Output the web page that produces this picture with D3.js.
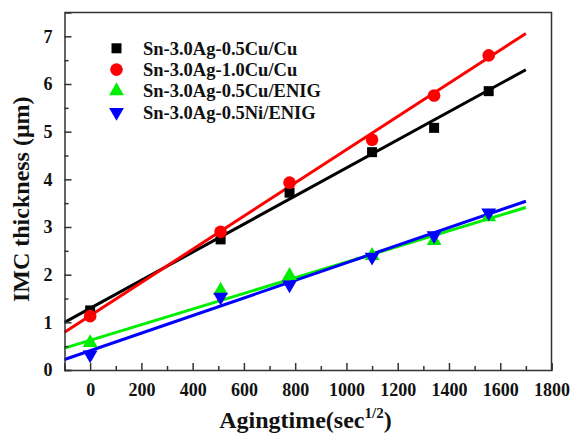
<!DOCTYPE html>
<html>
<head>
<meta charset="utf-8">
<script src="https://cdnjs.cloudflare.com/ajax/libs/d3/7.8.5/d3.min.js"></script>
<style>
    body { margin: 0; background: #fff; }
    text { font-family: "Liberation Serif", "Times New Roman", serif; font-weight: bold; fill: #111; }
</style>
</head>
<body>
<div id="chart"></div>
<script>
// aging time in sec^1/2
const agingTimes = [0, 509, 778, 1100, 1342, 1555];

const seriesNames = ['Sn-3.0Ag-0.5Cu/Cu', 'Sn-3.0Ag-1.0Cu/Cu', 'Sn-3.0Ag-0.5Cu/ENIG', 'Sn-3.0Ag-0.5Ni/ENIG'];
const seriesColors = ['#000000', '#ff0000', '#00ee00', '#0000ff'];

const sac305Cu = [1.25, 2.74, 3.72, 4.57, 5.08, 5.85];
const sac3010Cu = [1.13, 2.90, 3.93, 4.83, 5.76, 6.60];
const sac305Enig = [0.57, 1.67, 1.98, 2.40, 2.71, 3.21];
const sac305NiEnig = [0.32, 1.53, 1.79, 2.37, 2.82, 3.30];

// linear fit lines, value at start and end time
const fitTimes = [-100, 1700];
const fitSac305Cu = [1.00, 6.30];
const fitSac3010Cu = [0.79, 7.06];
const fitSac305Enig = [0.46, 3.41];
const fitSac305NiEnig = [0.22, 3.54];

const xTicks = [0, 200, 400, 600, 800, 1000, 1200, 1400, 1600, 1800];
const xMinorTicks = [-100, 100, 300, 500, 700, 900, 1100, 1300, 1500, 1700];
const yTicks = [0, 1, 2, 3, 4, 5, 6, 7];
const yMinorTicks = [0.5, 1.5, 2.5, 3.5, 4.5, 5.5, 6.5];

const seriesValues = [sac305Cu, sac3010Cu, sac305Enig, sac305NiEnig];
const seriesFits = [fitSac305Cu, fitSac3010Cu, fitSac305Enig, fitSac305NiEnig];
const seriesSymbols = ['square', 'circle', 'up', 'down'];

const totalWidth = 575, totalHeight = 434;
const margin = {top: 12.5, right: 23.5, bottom: 64, left: 64.5};
const width = totalWidth - margin.left - margin.right;
const height = totalHeight - margin.top - margin.bottom;

let svg = d3.select('#chart')
    .append('svg')
    .attr('width', totalWidth)
    .attr('height', totalHeight)
    .append('g')
    .attr('transform', 'translate(' + margin.left + ',' + margin.top + ')');

const x = d3.scaleLinear().domain([-100, 1800]).range([0, width]);
const y = d3.scaleLinear().domain([0, 7.5]).range([height, 0]);

// fit lines
seriesFits.forEach((fit, i) => {
    svg.append('path')
        .datum(fitTimes.map((t, j) => ({t: t, v: fit[j]})))
        .attr('fill', 'none')
        .attr('stroke', seriesColors[i])
        .attr('stroke-width', 3)
        .attr('d', d3.line()
            .x(d => x(d.t))
            .y(d => y(d.v))
        );
});

function symbolPath(kind) {
    if (kind === 'square') return d3.symbol().type(d3.symbolSquare).size(100)();
    if (kind === 'circle') return d3.symbol().type(d3.symbolCircle).size(125)();
    return d3.symbol().type(d3.symbolTriangle).size(95)();
}

function drawMarker(g, kind, color, px, py) {
    g.append('path')
        .attr('d', symbolPath(kind))
        .attr('fill', color)
        .attr('transform', 'translate(' + px + ',' + py + ')' + (kind === 'down' ? ' rotate(180)' : ''));
}

// data points
seriesValues.forEach((values, i) => {
    let g = svg.append('g');
    values.forEach((v, j) => {
        drawMarker(g, seriesSymbols[i], seriesColors[i], x(agingTimes[j]), y(v));
    });
});

// axes, ticks inward
const axisColor = '#333';
svg.append('g')
    .attr('transform', 'translate(0,' + height + ')')
    .call(d3.axisBottom(x).tickValues(xTicks).tickFormat(d3.format('d')).tickSize(-7).tickPadding(13))
    .call(g => g.selectAll('text').style('font-size', '18px'));
svg.append('g')
    .attr('transform', 'translate(0,' + height + ')')
    .call(d3.axisBottom(x).tickValues(xMinorTicks).tickSize(-4).tickFormat(''))
    .call(g => g.select('.domain').remove());

svg.append('g')
    .call(d3.axisLeft(y).tickValues(yTicks).tickSize(-7).tickPadding(12))
    .call(g => g.selectAll('text').style('font-size', '18px'));
svg.append('g')
    .call(d3.axisLeft(y).tickValues(yMinorTicks).tickSize(-4).tickFormat(''))
    .call(g => g.select('.domain').remove());

svg.selectAll('.domain, .tick line')
    .attr('stroke', axisColor)
    .attr('stroke-width', 1.5);
svg.selectAll('.tick text').attr('fill', '#111');

// top and right frame
svg.append('path')
    .attr('d', 'M0,0H' + width + 'V' + height)
    .attr('fill', 'none')
    .attr('stroke', axisColor)
    .attr('stroke-width', 1.5);

// legend
let legend = svg.append('g');
seriesNames.forEach((name, i) => {
    const ly = 35.8 + i * 21.3;
    drawMarker(legend, seriesSymbols[i], seriesColors[i], 52, ly);
    legend.append('text')
        .attr('x', 78.5)
        .attr('y', ly)
        .attr('dy', '0.35em')
        .style('font-size', '18.5px')
        .text(name);
});

// axis titles
svg.append('text')
    .attr('transform', 'translate(' + (-36) + ',' + (height / 2 + 8) + ') rotate(-90)')
    .attr('text-anchor', 'middle')
    .style('font-size', '24px')
    .text('IMC thickness (\u03bcm)');

let xt = svg.append('text')
    .attr('x', x(840))
    .attr('y', height + 58)
    .attr('text-anchor', 'middle')
    .style('font-size', '24px');
xt.append('tspan').text('Agingtime(sec');
xt.append('tspan').attr('dy', -10).style('font-size', '15px').text('1/2');
xt.append('tspan').attr('dy', 10).text(')');
</script>
</body>
</html>
